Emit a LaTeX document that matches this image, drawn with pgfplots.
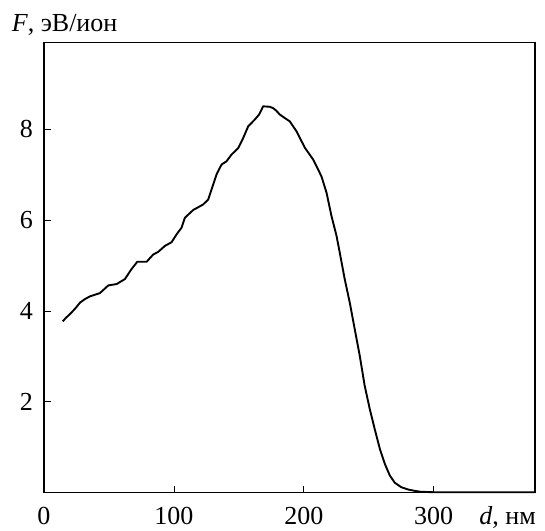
\documentclass[border=0pt]{standalone}
\usepackage{fontspec}
\setmainfont{Liberation Serif}
\usepackage{pgfplots}
\pgfplotsset{compat=1.18}
\begin{document}
\begin{tikzpicture}
\begin{axis}[
  name=ax,
  scale only axis,
  width=491bp, height=450bp,
  xmin=0, xmax=378, ymin=0, ymax=9.9,
  xtick={0,100,200,300}, ytick={2,4,6,8},
  /pgf/number format/assume math mode=true,
  tick align=inside,
  xtick pos=lower, ytick pos=left,
  major tick length=7bp,
  every tick/.style={black, line width=0.7bp},
  axis line style={line width=1.5bp},
  tick label style={font=\fontsize{26bp}{30bp}\selectfont},
  xticklabel style={anchor=base, yshift=-31.5bp, inner sep=0pt},
  yticklabel style={anchor=east, inner sep=0pt, xshift=-11bp},
  clip=false,
]
\addplot[black, line width=1.9bp, line join=round] coordinates {
(14.4,3.77) (17,3.85) (20,3.93) (24,4.05) (27.7,4.18) (31,4.25) (35.4,4.32)
(43,4.39) (49.5,4.56) (55.9,4.59) (62.3,4.70) (67.4,4.92) (71.8,5.08) (79,5.08)
(84.1,5.24) (88,5.30) (93.1,5.43) (98.2,5.51) (102,5.68) (105.9,5.83) (108.5,6.05)
(114.9,6.22) (122.5,6.34) (126.4,6.45) (129,6.67) (132.8,7.00) (136.7,7.22)
(140.5,7.29) (144.4,7.44) (149.5,7.58) (153.3,7.80) (157.2,8.06) (162.3,8.21)
(165.6,8.32) (168.7,8.50) (173.8,8.49) (176.4,8.46) (179,8.40) (181.5,8.32)
(185,8.25) (189.2,8.17) (194.4,7.95) (200.8,7.59) (207.2,7.33) (213.6,6.96)
(217.5,6.60) (221.3,6.09) (225.2,5.65) (227.7,5.28) (231.5,4.70) (235.4,4.18)
(239.2,3.60) (243.1,3.01) (246.9,2.35) (250.8,1.84) (254.6,1.40) (258.5,0.97)
(262.3,0.64) (266.2,0.38) (270,0.22) (275.1,0.12) (280.3,0.07) (285.4,0.04)
(290,0.02) (300,0.01) (378,0.01)
};
\end{axis}
\node[anchor=base east, inner sep=0pt, font=\fontsize{26bp}{30bp}\selectfont]
  at ([xshift=1bp, yshift=-31.5bp]ax.south east) {\textit{d}, нм};
\node[anchor=base west, inner sep=0pt, font=\fontsize{26bp}{30bp}\selectfont]
  at ([xshift=-32.3bp, yshift=11bp]ax.north west) {\textit{F}, эВ/ион};
\path ([shift={(-44bp,-38bp)}]ax.south west) rectangle ([shift={(10bp,42.7bp)}]ax.north east);
\end{tikzpicture}
\end{document}
